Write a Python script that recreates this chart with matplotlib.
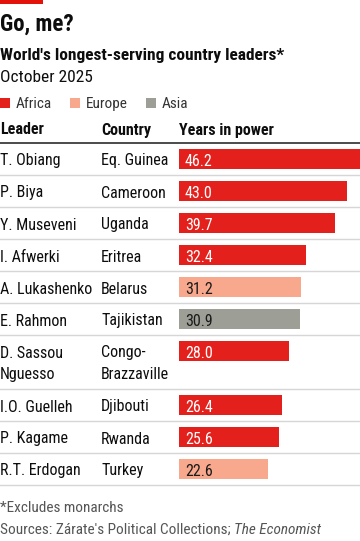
import matplotlib
matplotlib.use("Agg")
import matplotlib.pyplot as plt
from matplotlib.patches import Rectangle

plt.rcParams['font.family'] = ['Roboto Condensed', 'Barlow Semi Condensed', 'Roboto', 'DejaVu Sans']

# data
leaders = ["T. Obiang", "P. Biya", "Y. Museveni", "I. Afwerki", "A. Lukashenko",
           "E. Rahmon", "D. Sassou\nNguesso", "I.O. Guelleh", "P. Kagame", "R.T. Erdogan"]
countries = ["Eq. Guinea", "Cameroon", "Uganda", "Eritrea", "Belarus",
             "Tajikistan", "Congo-\nBrazzaville", "Djibouti", "Rwanda", "Turkey"]
years = [46.2, 43.0, 39.7, 32.4, 31.2, 30.9, 28.0, 26.4, 25.6, 22.6]
regions = ["Africa", "Africa", "Africa", "Africa", "Europe",
           "Asia", "Africa", "Africa", "Africa", "Europe"]

colours = {"Africa": "#E3201B", "Europe": "#F8A88C", "Asia": "#9D9E96"}
label_col = {"Africa": "white", "Europe": "#1a1a1a", "Asia": "#1a1a1a"}

W, H = 360, 541
fig = plt.figure(figsize=(W / 100, H / 100), dpi=100)
ax = fig.add_axes([0, 0, 1, 1])
ax.set_xlim(0, W)
ax.set_ylim(H, 0)
ax.axis("off")

# red tag top left
ax.add_patch(Rectangle((0, 0), 43, 4, color="#E3120B", lw=0))

ax.text(0, 31, "Go, me?", fontsize=16.5, fontweight="bold", color="#0d0d0d", va="baseline")
ax.text(0, 60, "World's longest-serving country leaders*", fontsize=12.5, fontweight="bold",
        color="#0d0d0d", va="baseline")
ax.text(0, 81.5, "October 2025", fontsize=12.5, color="#0d0d0d", va="baseline")

# legend
for x0, name in [(0, "Africa"), (70, "Europe"), (146, "Asia")]:
    ax.add_patch(Rectangle((x0, 97.5), 10, 10, color=colours[name], lw=0))
    ax.text(x0 + 15.5, 108, name, fontsize=11, color="#333333", va="baseline")

# header
col_x = [0, 101, 179]
for x0, h in zip(col_x, ["Leader", "Country", "Years in power"]):
    ax.text(x0, 134.5, h, fontsize=11.5, fontweight="bold", color="#0d0d0d", va="baseline")
ax.plot([0, W], [142.5, 142.5], color="#1a1a1a", lw=1.1, solid_capstyle="butt")

# row layout
top = 143
row_h = [54 if "\n" in l else 32 for l in leaders]
centers = []
for rh in row_h:
    centers.append(top + 16)
    top += rh
    ax.plot([0, W], [top, top], color="#d6d6d6", lw=1.0)

for c, l, co in zip(centers, leaders, countries):
    for x0, s in [(col_x[0], l), (col_x[1], co)]:
        for k, line in enumerate(s.split("\n")):
            ax.text(x0, c + 6.5 + 21.7 * k, line, fontsize=11.5, color="#0d0d0d", va="baseline")

# bars
bax = fig.add_axes([179 / W, 0, 181 / W, 1])
bax.set_xlim(0, 46.2)
bax.set_ylim(H, 0)
bax.axis("off")
bax.barh(centers, years, height=20, color=[colours[r] for r in regions], lw=0)
for c, v, r in zip(centers, years, regions):
    bax.text(1.5, c + 6.5, f"{v:.1f}", fontsize=11.5, color=label_col[r], va="baseline")

# footnotes
ax.text(0, 512.5, "*Excludes monarchs", fontsize=11, color="#555555", va="baseline")
t = ax.text(0, 534, "Sources: Zárate's Political Collections; ", fontsize=11, color="#555555", va="baseline")
fig.canvas.draw()
bb = t.get_window_extent()
ax.text(bb.x1 * W / fig.bbox.width, 534, "The Economist", fontsize=11, style="italic",
        color="#555555", va="baseline")

fig.savefig("out.png", dpi=100)
